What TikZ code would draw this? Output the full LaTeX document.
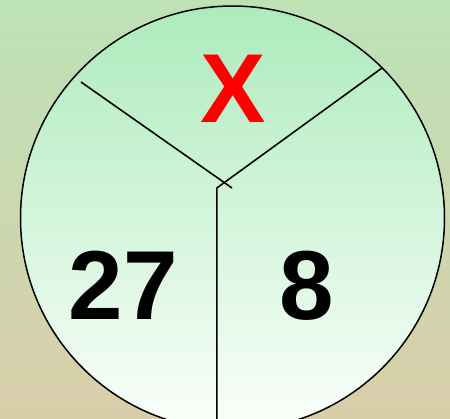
\documentclass[tikz,border=0pt]{standalone}
\usepackage{fontspec}
\setmainfont{Liberation Sans}

\definecolor{bgtop}{HTML}{BDE2B6}
\definecolor{bgbot}{HTML}{D9CEAA}
\definecolor{disctop}{HTML}{ADEBBC}
\definecolor{discbot}{HTML}{FBFFFB}
\definecolor{xred}{HTML}{FF0000}

\begin{document}
\begin{tikzpicture}[
  x=1pt, y=-1pt,
  line join=round,
  rim/.style={line width=1.5pt},
  spoke/.style={line width=1.6pt},
  digit/.style={font=\fontsize{98}{98}\selectfont\bfseries, anchor=base, inner sep=0pt},
]
\useasboundingbox (0,0) rectangle (450,418);
\clip (0,0) rectangle (450,418);

% -- backdrop and disc ------------------------------------------------------
\shade[top color=bgtop, bottom color=bgbot] (0,0) rectangle (450,418);
\shade[top color=disctop, bottom color=discbot] (232.5,218) circle (212);
\draw[rim] (232.5,218) circle (212);

% -- the three spokes -------------------------------------------------------
\coordinate (nw) at (81,82);
\coordinate (ne) at (382,68);
\coordinate (hubl) at (232,188);
\coordinate (hubr) at (216.8,188);
\coordinate (foot) at (216.8,420);
\draw[spoke] (nw) -- (hubl);
\draw[spoke] (ne) -- (hubr) -- (foot);

% -- the numbers ------------------------------------------------------------
\node[digit, text=xred] (unknown) at (233,122) {X};
\node[digit] (left) at (123.5,319) {27};
\node[digit] (right) at (307,319) {8};

\end{tikzpicture}
\end{document}
